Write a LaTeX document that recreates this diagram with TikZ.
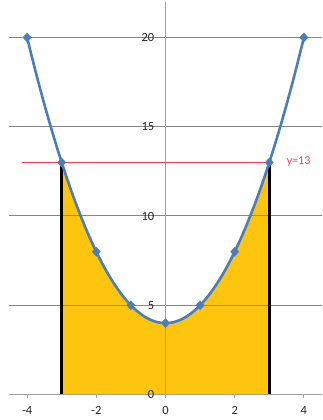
\documentclass[tikz,border=0pt]{standalone}
\usepackage{fontspec}
\setmainfont{Carlito}
\usetikzlibrary{shapes.geometric}
\definecolor{curveblue}{RGB}{74,126,187}
\definecolor{areagold}{RGB}{254,197,14}
\definecolor{gridgray}{RGB}{134,134,134}
\definecolor{axisgray}{RGB}{160,160,160}
\definecolor{linered}{RGB}{238,64,72}
\tikzset{
  gridline/.style={draw=gridgray, line width=1pt},
  axisline/.style={draw=axisgray, line width=1pt},
  curve/.style={draw=curveblue, line width=2.6pt, line join=round},
  mk/.style={diamond, fill=curveblue, inner sep=0pt, minimum width=9pt, minimum height=10pt},
  bound/.style={draw=black, line width=3pt},
  ylab/.style={anchor=east, inner sep=0pt, font=\fontsize{12.5}{14}\selectfont, text=black!85},
  xlab/.style={anchor=center, inner sep=0pt, font=\fontsize{12.5}{14}\selectfont, text=black!85},
  redlab/.style={anchor=west, inner sep=0pt, font=\fontsize{12}{14}\selectfont, text=linered}
}
\begin{document}
\begin{tikzpicture}[x=34.6pt, y=17.85pt]
\useasboundingbox (-4.783,-1.4286) rectangle (4.552,22.101);
% area under curve
\fill[areagold] (-3,0) -- plot[domain=-3:3, samples=80] (\x,{\x*\x+4}) -- (3,0) -- cycle;
% grid lines
\foreach \g in {5,10,15,20} { \draw[gridline] (-4.52,\g) -- (4.52,\g); }
% axes
\draw[axisline] (-4.52,0) -- (4.52,0);
\draw[axisline] (0,-0.22) -- (0,22);
\foreach \t in {-4,-2,2,4} { \draw[axisline] (\t,0) -- (\t,-0.22); }
% y labels
\foreach \g in {0,5,10,15,20} { \node[ylab] (yl\g) at (-0.32,\g) {\g}; }
% x labels
\node[xlab] (xlm4) at (-4,-0.87) {-4};
\node[xlab] (xlm2) at (-2,-0.87) {-2};
\node[xlab] (xl0) at (0,-0.87) {0};
\node[xlab] (xl2) at (2,-0.87) {2};
\node[xlab] (xl4) at (4,-0.87) {4};
% boundary lines
\coordinate (bl0) at (-3,0); \coordinate (bl1) at (-3,13);
\coordinate (br0) at (3,0); \coordinate (br1) at (3,13);
\draw[bound] (bl0) -- (bl1);
\draw[bound] (br0) -- (br1);
% red line y=13
\coordinate (r0) at (-4.15,13);
\node[redlab] (rl) at (3.5,13.05) {y=13};
\draw[draw=linered, line width=1.2pt] (r0) -- (3.12,13);
% curve
\draw[curve] plot[domain=-4:4, samples=120] (\x,{\x*\x+4});
% markers
\foreach \m in {-4,...,4} { \node[mk] (m\m) at (\m,{\m*\m+4}) {}; }
\end{tikzpicture}
\end{document}
